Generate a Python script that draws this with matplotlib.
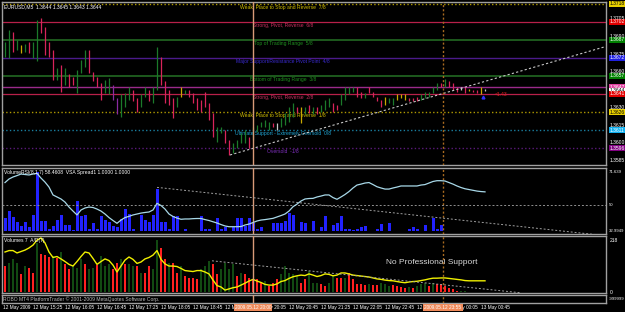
import matplotlib
matplotlib.use("Agg")
import matplotlib.pyplot as plt
import matplotlib.transforms as mtransforms

plt.rcParams['font.family'] = ['Liberation Sans', 'DejaVu Sans']

# ---------------- data ----------------
highs = [1.3685,1.3696,1.3694,1.3687,1.3683,1.3684,1.3685,1.3685,1.3704,1.3706,
         1.3698,1.3685,1.3679,1.3663,1.3666,1.3663,1.3658,1.3656,1.3662,1.3670,
         1.3679,1.3679,1.3660,1.3656,1.3651,1.3653,1.3655,1.3649,1.3638,1.3641,
         1.3642,1.3647,1.3645,1.3638,1.3641,1.3647,1.3645,1.3647,1.3681,1.3673,
         1.3652,1.3645,1.3638,1.3639,1.3647,1.3645,1.3645,1.3642,1.3638,1.3636,
         1.3643,1.3634,1.3625,1.3613,1.3613,1.3611,1.3602,1.3600,1.3602,1.3608,
         1.3611,1.3605,1.3613,1.3615,1.3618,1.3619,1.3618,1.3617,1.3617,1.3621,
         1.3625,1.3630,1.3634,1.3630,1.3630,1.3630,1.3632,1.3630,1.3630,1.3632,
         1.3636,1.3638,1.3634,1.3632,1.3641,1.3647,1.3647,1.3647,1.3647,1.3643,
         1.3642,1.3647,1.3643,1.3639,1.3636,1.3639,1.3638,1.3638,1.3641,1.3641,
         1.3641,1.3638,1.3638,1.3639,1.3641,1.3643,1.3643,1.3647,1.3651,1.3651,
         1.3654,1.3652,1.3651,1.3647,1.3647,1.3647,1.3646,1.3645,1.3645,1.3647,
         1.3646]
lows = [1.3673,1.3672,1.3677,1.3679,1.3676,1.3677,1.3676,1.3672,1.3669,1.3693,
        1.3674,1.3673,1.3653,1.3653,1.3643,1.3649,1.3647,1.3649,1.3642,1.3659,
        1.3664,1.3659,1.3652,1.3647,1.3636,1.3642,1.3641,1.3636,1.3624,1.3622,
        1.3630,1.3636,1.3635,1.3626,1.3630,1.3639,1.3635,1.3634,1.3645,1.3649,
        1.3634,1.3632,1.3621,1.3630,1.3639,1.3641,1.3639,1.3634,1.3628,1.3626,
        1.3630,1.3619,1.3605,1.3601,1.3608,1.3600,1.3590,1.3591,1.3596,1.3600,
        1.3600,1.3596,1.3602,1.3609,1.3613,1.3613,1.3611,1.3613,1.3611,1.3613,
        1.3615,1.3618,1.3622,1.3625,1.3617,1.3624,1.3625,1.3624,1.3624,1.3626,
        1.3628,1.3630,1.3626,1.3628,1.3632,1.3636,1.3641,1.3643,1.3639,1.3638,
        1.3638,1.3642,1.3639,1.3635,1.3630,1.3632,1.3634,1.3632,1.3636,1.3638,
        1.3636,1.3635,1.3635,1.3635,1.3636,1.3638,1.3639,1.3642,1.3645,1.3647,
        1.3647,1.3647,1.3645,1.3643,1.3645,1.3642,1.3644,1.3643,1.3642,1.3641,
        1.3644]
bar_kind = ("ggpgygpggp" "pppgpgppgg" "gppppgguug" "ggppggpggp" "pppgygpppp"
            "pppggppggg" "gpgggggpwg" "gggpygpgpg" "ggppggggpp" "gppppyggyy"
            "ypppgggggp" "gpppwpyppyw")

vsa_volume = [27,41,28,18,11,18,9,33,118,20,
              21,5,11,23,33,13,13,2,61,31,
              33,5,16,5,31,23,18,11,8,25,
              45,35,5,1,33,23,18,33,85,18,
              18,5,31,31,1,5,1,1,0,31,
              5,5,1,27,5,9,0,9,27,27,
              11,27,16,5,8,0,0,17,17,17,
              21,36,33,0,18,16,0,20,0,9,
              31,0,13,17,31,5,5,3,5,9,
              11,0,0,5,15,0,17,1,1,1,
              1,5,8,5,0,13,0,27,5,13,
              0,0,0,1,0,0,0,1,1,1,0]
volume_rsi = [64.5,66.8,68.1,69.0,70.0,69.7,69.4,70.0,70.4,67.4,
              64.8,61.6,56.5,55.2,53.9,51.9,48.7,46.1,43.6,46.8,
              48.1,48.7,48.4,47.4,46.1,44.2,41.9,40.0,38.2,40.3,
              41.9,42.7,43.6,44.2,44.8,45.2,45.5,46.8,51.1,49.7,
              47.4,44.2,42.6,41.6,40.8,41.0,41.0,41.2,41.3,41.3,
              40.6,40.0,39.2,38.4,37.4,36.5,36.0,36.0,36.0,36.1,
              37.1,37.7,38.7,39.7,40.3,40.6,41.0,41.4,42.3,43.2,
              44.2,46.1,48.9,50.6,52.6,53.9,54.2,54.3,55.2,55.8,
              56.5,56.5,54.8,53.7,55.2,56.8,58.7,61.0,62.9,63.5,
              64.2,64.5,63.2,61.8,61.0,60.3,60.3,61.0,61.6,62.3,
              62.3,62.3,62.3,62.3,62.9,63.2,64.2,65.2,65.7,65.7,
              65.5,64.5,63.5,62.3,61.3,60.5,60.0,59.5,59.0,58.7,58.5]

tick_volume = [109,123,140,120,74,109,102,81,207,158,
               154,148,151,144,168,116,95,109,102,137,
               119,95,102,113,151,109,116,95,123,137,
               116,116,109,109,81,81,109,95,218,186,
               137,123,123,81,109,67,60,60,53,95,
               109,130,116,74,95,123,95,116,67,81,
               74,60,53,53,39,46,25,39,53,74,
               109,81,74,67,39,53,88,39,39,32,
               25,39,67,60,60,60,81,53,32,32,
               28,32,28,28,39,32,25,28,25,22,
               18,22,18,25,32,39,25,36,32,32,
               25,18,11,4,4,4,2,2,2,2,2]
vol_kind = ("rgggrgrrgr" "rrgrgrrggg" "rggrgggrrg" "rggrgrrggr" "rgrrgrrrrg"
            "ggrrggggrg" "rrrrrgrrrg" "ggggrrgggr" "rggrrgrrrr" "rgrrgggrrr"
            "rgrgggrgrr" "rrrrggggggg")
vol_avg = [168,174,174,164,170,176,185,197,218,227,
           206,168,145,149,139,128,116,109,128,149,
           168,164,141,116,128,139,132,113,84,109,
           134,147,137,120,126,139,145,155,174,137,
           118,109,109,107,99,90,88,86,90,90,
           84,76,50,27,21,8,13,18,21,29,
           37,46,53,46,40,32,29,29,34,44,
           48,57,64,68,71,69,76,71,65,69,
           76,74,68,71,80,80,76,71,69,67,
           65,63,59,55,53,50,48,47,44,41,
           39,42,44,45,48,51,55,58,58,59,
           59,57,55,53,51,48,47,47,47,47,47]

murrey_levels = [1.371765, 1.370239, 1.368713, 1.367188, 1.365662,
                 1.364136, 1.362610, 1.361084, 1.359558]
murrey_names = ["Weak, Place to Stop and Reverse  7/8", "Strong, Pivot, Reverse  6/8",
                "Top of Trading Range  5/8", "Major Support/Resistance Pivot Point  4/8",
                "Bottom of Trading Range  3/8", "Strong, Pivot, Reverse  2/8",
                "Weak, Place to Stop and Reverse  1/8",
                "Ultimate Support - Extremely Oversold  0/8", "Oversold  -1/8"]
pivot_level = 1.3647

price_ticks = [1.3705, 1.3690, 1.3675, 1.3660, 1.3630, 1.3615, 1.3600, 1.3585]
box_labels = ["1.3718", "1.3702", "1.3687", "1.3672", "1.3657", "1.3647",
              "1.3644", "1.3641", "1.3626", "1.3611", "1.3596"]
box_values = [1.371765, 1.370239, 1.368713, 1.367188, 1.365662, 1.3647,
              1.3644, 1.364136, 1.362610, 1.361084, 1.359558]

price_trend = ([56.25, 150.0], [1.35897, 1.36814])
rsi_trend = ([38.0, 148.75], [61.4, 30.6])
vol_trend = ([51.75, 128.75], [131.0, -3.0])

time_ticks = [7, 15, 23, 31, 39, 47, 55, 63, 71, 79, 87, 95, 103, 111, 119]
time_labels = ["12 May 15:25", "12 May 16:05", "12 May 16:45", "12 May 17:25",
               "12 May 18:05", "12 May 18:45", "12 May 19:25", "12 May 20:05",
               "12 May 20:45", "12 May 21:25", "12 May 22:05", "12 May 22:45",
               "12 May 23:25", "13 May 00:05", "13 May 00:45"]
cursor_bars = [62, 109.5]
cursor_labels = ["2009.05.12 20:00", "2009.05.12 23:55"]

# ---------------- style ----------------
W, H = 625, 312
FS = 3.6
bar_colors = {'g': '#1b7a2a', 'p': '#d8245a', 'y': '#c8a800', 'u': '#8a2aa0', 'w': '#c8c8c8'}
murrey_line_colors = ["#b09a00", "#b8204a", "#1d5a1d", "#4b1a8a", "#1d5a1d",
                      "#b8204a", "#b09a00", "#1a7fa0", "#5a1a7a"]
murrey_line_styles = [':', '-', '-', '-', '-', '-', ':', ':', ':']
murrey_line_widths = [1.0, 0.9, 1.4, 1.0, 1.4, 0.9, 1.0, 1.0, 1.0]
murrey_text_colors = ["#d4c000", "#c83060", "#1f8f1f", "#3a2ad0", "#1f8f1f",
                      "#c83060", "#d4c000", "#20a8d8", "#8030c0"]
box_bg = ["#e8d000", "#e00000", "#008000", "#2020e0", "#008000", "#e040a0",
          "#ffffff", "#e00000", "#e8d000", "#10b0f0", "#800080"]
box_fg = ["#000000", "#ffffff", "#ffffff", "#ffffff", "#ffffff", "#ffffff",
          "#000000", "#ffffff", "#000000", "#ffffff", "#ffffff"]

fig = plt.figure(figsize=(W / 100, H / 100), dpi=100, facecolor='black')


def px_axes(top, bottom, left=2, right=606):
    return fig.add_axes([left / W, 1 - bottom / H, (right - left) / W, (bottom - top) / H])


def style(ax):
    ax.set_facecolor('black')
    for s in ax.spines.values():
        s.set_color('#a0a0a0')
        s.set_linewidth(1.0)
    ax.set_xticks([])
    ax.set_yticks([])
    ax.set_xlim(-0.75, 150.25)


ax1 = px_axes(2, 165)
ax2 = px_axes(168, 234)
ax3 = px_axes(236, 293)
ax4 = px_axes(295, 303)
for a in (ax1, ax2, ax3, ax4):
    style(a)

idx = list(range(len(highs)))

# ---- main price panel ----
ax1.set_ylim(1.35812, 1.37193)
for lvl, c, ls, lw in zip(murrey_levels, murrey_line_colors, murrey_line_styles, murrey_line_widths):
    ax1.axhline(lvl, color=c, ls=ls, lw=lw, zorder=1)
ax1.axhline(pivot_level, color='#9a2a8a', lw=1.0, zorder=1)
for lvl, name, c in zip(murrey_levels, murrey_names, murrey_text_colors):
    ax1.annotate(name, (69.5, lvl), xytext=(0, -0.8), textcoords='offset points',
                 ha='center', va='top', color=c, fontsize=FS, zorder=3)
ax1.vlines(idx, lows, highs, colors=[bar_colors[k] for k in bar_kind], lw=0.9, zorder=4)
ax1.plot(*price_trend, color='#c8c8c8', ls=(0, (2, 2)), lw=0.8, zorder=5)
ax1.text(122.5, 1.3641, "<1.43", color='#e02020', fontsize=FS, va='center', zorder=6)
ax1.plot([119.5], [1.3639], marker='^', ms=2, color='#3030ff', zorder=6)

tr1 = mtransforms.blended_transform_factory(ax1.transAxes, ax1.transData)
for v in price_ticks:
    ax1.text(1.006, v, f"{v:.4f}", transform=tr1, color='white', fontsize=FS,
             va='center', ha='left', clip_on=False)
for lab, v, bg, fg in zip(box_labels, box_values, box_bg, box_fg):
    ax1.text(1.006, v, lab, transform=tr1, color=fg, fontsize=FS, va='center', ha='left',
             bbox=dict(boxstyle='square,pad=0.15', fc=bg, ec='none'), clip_on=False, zorder=10)
ax1.text(0.004, 0.985, "EURUSD,M5  1.3644 1.3645 1.3643 1.3644", transform=ax1.transAxes,
         color='white', fontsize=FS, va='top', ha='left')

# ---- VSA volume / Volume RSI panel ----
ax2.set_ylim(-6, 126)
ax2.bar(idx, vsa_volume, width=0.75, color='#2222ff', zorder=2)
ax2b = ax2.twinx()
ax2b.set_ylim(31.3, 73.9)
ax2b.set_xlim(-0.75, 150.25)
ax2b.set_yticks([])
for s in ax2b.spines.values():
    s.set_visible(False)
ax2b.axhline(50, color='#909090', ls=(0, (2, 2)), lw=0.7)
ax2b.plot(idx, volume_rsi, color='#a8d8e8', lw=0.9, zorder=3)
ax2b.plot(*rsi_trend, color='#a0a0a0', ls=(0, (2, 2)), lw=0.7)
tr2 = mtransforms.blended_transform_factory(ax2b.transAxes, ax2b.transData)
for v, lab in [(71.639, "71.639"), (50, "50"), (32.9949, "32.9949")]:
    ax2b.text(1.005, v, lab, transform=tr2, color='white', fontsize=3.1, va='center',
              ha='left', clip_on=False)
ax2b.text(0.004, 0.97, "VolumeRSI(8,1,7) 58.4608  VSA Spread1 1.0000 1.0000",
          transform=ax2b.transAxes, color='white', fontsize=FS, va='top', ha='left')

# ---- tick volume panel ----
ax3.set_ylim(-4.2, 235.2)
vcol = {'r': '#ff2020', 'g': '#124a12'}
vwid = {'r': 0.55, 'g': 0.35}
for i, (v, k) in enumerate(zip(tick_volume, vol_kind)):
    ax3.bar(i, v, width=vwid[k], color=vcol[k], zorder=2)
ax3.plot(idx, vol_avg, color='#f0f000', lw=1.0, zorder=3)
ax3.plot(*vol_trend, color='#a0a0a0', ls=(0, (2, 2)), lw=0.7, zorder=3)
ax3.text(106.75, 126, "No Professional Support", color='#d8d8d8', fontsize=6,
         ha='center', va='center', zorder=4)
tr3 = mtransforms.blended_transform_factory(ax3.transAxes, ax3.transData)
for v, lab in [(218, "218"), (0, "0")]:
    ax3.text(1.006, v, lab, transform=tr3, color='white', fontsize=FS, va='center',
             ha='left', clip_on=False)
ax3.text(0.004, 0.96, "Volumes 7  A/D(7)", transform=ax3.transAxes,
         color='white', fontsize=FS, va='top', ha='left')

# ---- bottom strip ----
ax4.text(0.002, 0.5, "ROBO MT4 PlatformTrader \u00a9 2001-2009 MetaQuotes Software Corp.",
         transform=ax4.transAxes, color='#c0c0c0', fontsize=FS, va='center', ha='left')
ax4.text(1.004, 0.5, "-999999", transform=ax4.transAxes, color='white', fontsize=3.1,
         va='center', ha='left', clip_on=False)

# ---- cursors ----
for a in (ax1, ax2, ax3, ax4):
    a.axvline(cursor_bars[0], color='#d89a78', lw=1.0, zorder=8)
    a.axvline(cursor_bars[1], color='#a86a20', lw=1.0, ls=(0, (1.5, 1.5)), zorder=8)

# ---- time axis ----
trt = mtransforms.blended_transform_factory(ax4.transData, fig.transFigure)
ty = 1 - 307.5 / H
fig.text(3 / W, ty, "12 May 2009", color='white', fontsize=3.4, va='center', ha='left')
for t, lab in zip(time_ticks, time_labels):
    fig.text(t, ty, lab, transform=trt, color='white', fontsize=3.4, va='center', ha='left')
for t, lab in zip(cursor_bars, cursor_labels):
    fig.text(t, ty, lab, transform=trt, color='white', fontsize=3.4, va='center', ha='center',
             bbox=dict(boxstyle='square,pad=0.25', fc='#f08a5a', ec='none'), zorder=10)

fig.savefig("out.png", dpi=100, facecolor='black')
